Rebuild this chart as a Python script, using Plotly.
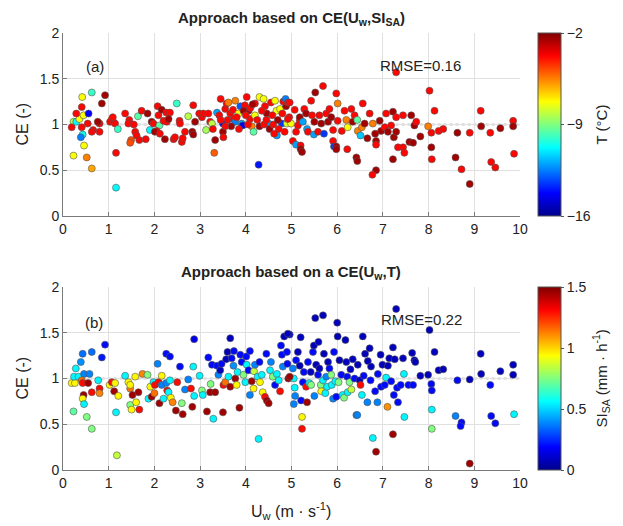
import plotly.graph_objects as go

# ---------------- Panel (a): CE vs U_w, colour = T (°C) ----------------
a_uw = [0.23, 0.23, 0.19, 0.29, 0.36, 0.45, 0.42, 0.63, 0.41, 0.29, 0.56, 0.41, 0.43, 0.39, 0.46, 0.52, 0.63,
        0.54, 0.66, 0.63, 0.80, 0.80, 0.76, 0.85, 0.92, 1.07, 1.03, 1.10, 1.14, 1.09, 1.20, 1.16, 1.16, 1.36,
        1.45, 1.43, 1.49, 1.47, 1.55, 1.58, 1.64, 1.61, 1.67, 1.72, 1.85, 1.81, 1.90, 1.94, 1.98, 2.07, 2.09,
        2.11, 2.05, 2.01, 2.12, 2.16, 2.26, 2.20, 2.27, 2.23, 2.34, 2.31, 2.42, 2.45, 2.49, 2.55, 2.56, 2.60,
        2.62, 2.67, 2.74, 2.85, 2.83, 2.85, 2.89, 2.98, 3.04, 3.07, 3.13, 3.18, 3.22, 3.26, 3.28, 3.33, 3.31,
        3.37, 3.42, 3.45, 3.50, 3.51, 3.50, 3.55, 3.58, 3.62, 3.66, 3.72, 3.77, 3.73, 3.77, 3.84, 3.88, 3.91,
        3.93, 3.98, 4.02, 4.06, 4.09, 4.13, 4.17, 4.20, 4.20, 4.28, 4.30, 4.39, 4.42, 4.46, 4.50, 4.55, 4.64,
        4.67, 4.68, 4.75, 4.79, 4.90, 3.60, 3.68, 3.80, 3.85, 3.95, 4.00, 4.05, 4.10, 4.15, 4.25, 4.30, 4.35,
        4.40, 4.45, 4.52, 4.58, 4.60, 4.70, 4.72, 4.80, 4.85, 4.88, 4.95, 3.45, 3.55, 4.62, 4.82, 4.87, 4.92,
        4.96, 5.07, 4.99, 4.92, 5.14, 5.18, 5.10, 5.03, 5.18, 5.10, 5.20, 5.20, 5.23, 5.25, 5.28, 5.32, 5.34,
        5.36, 5.43, 5.45, 5.50, 5.49, 5.52, 5.58, 5.61, 5.65, 5.69, 5.71, 5.76, 5.80, 5.83, 5.87, 5.91, 5.91,
        5.93, 5.98, 5.98, 5.98, 6.01, 6.01, 6.10, 6.16, 6.20, 6.22, 6.23, 6.31, 6.34, 6.38, 6.42, 6.44, 6.45,
        6.44, 6.51, 6.54, 6.56, 6.60, 6.66, 6.71, 6.78, 6.83, 6.85, 6.85, 6.85, 6.77, 6.93, 6.96, 7.04, 7.07,
        7.11, 7.18, 7.22, 7.24, 7.29, 7.29, 7.33, 7.44, 7.22, 7.29, 7.47, 7.44, 7.62, 7.58, 7.66, 7.69, 7.73,
        7.82, 7.99, 8.02, 8.06, 8.06, 8.07, 8.13, 8.22, 8.32, 8.59, 8.63, 8.72, 8.90, 8.90, 9.14, 9.15, 9.35,
        9.37, 9.46, 9.57, 9.85, 9.85, 9.87]
a_ce = [0.66, 1.03, 0.97, 1.03, 1.06, 1.10, 1.30, 1.35, 1.19, 1.12, 1.12, 0.97, 0.89, 0.86, 0.77, 0.64, 0.52,
        1.01, 0.94, 0.92, 1.01, 0.92, 1.03, 1.23, 1.32, 1.06, 1.03, 1.03, 1.01, 1.08, 0.95, 0.69, 0.31, 1.12,
        1.05, 1.01, 0.83, 0.80, 1.00, 0.92, 1.09, 0.88, 0.83, 1.15, 1.12, 0.84, 0.94, 1.03, 1.01, 1.20, 1.10,
        0.99, 0.93, 0.92, 0.90, 1.16, 1.13, 1.04, 1.03, 0.84, 1.13, 1.06, 0.84, 0.86, 1.23, 1.04, 1.01, 0.81,
        0.85, 0.92, 1.09, 1.21, 0.92, 0.89, 1.03, 1.12, 1.08, 1.12, 0.94, 1.12, 1.03, 1.01, 0.95, 0.83, 0.69,
        1.13, 1.10, 1.28, 0.92, 0.86, 1.01, 1.17, 1.23, 1.24, 1.12, 1.16, 1.26, 1.06, 1.03, 1.12, 1.20, 1.01,
        0.99, 1.21, 1.30, 1.15, 1.06, 0.98, 0.92, 1.23, 1.10, 0.56, 1.30, 1.28, 1.20, 1.12, 1.01, 1.24, 1.26,
        1.15, 0.88, 1.17, 1.01, 1.01, 1.05, 0.98, 1.08, 0.95, 1.15, 1.10, 1.00, 1.18, 1.22, 1.05, 0.98, 1.15,
        1.00, 1.05, 0.95, 1.10, 1.00, 1.05, 0.95, 1.12, 0.92, 1.20, 1.08, 1.05, 0.98, 0.90, 1.25, 1.28, 1.24,
        1.24, 1.16, 1.01, 1.06, 0.99, 1.04, 0.92, 0.82, 1.08, 0.78, 0.77, 0.73, 0.70, 1.03, 1.17, 1.12, 0.95,
        0.92, 1.26, 1.10, 1.03, 0.89, 1.35, 0.92, 1.10, 1.01, 1.42, 0.90, 1.12, 1.03, 1.17, 1.08, 0.94, 0.82,
        0.76, 0.76, 0.73, 1.34, 1.23, 1.04, 0.93, 1.15, 1.05, 0.73, 0.97, 1.17, 1.03, 1.10, 0.64, 1.05, 0.93,
        0.60, 0.88, 0.97, 1.23, 1.01, 0.85, 1.12, 1.01, 0.90, 0.82, 0.78, 0.50, 0.45, 1.04, 0.93, 0.97, 1.12,
        0.92, 0.99, 1.14, 0.86, 1.08, 0.92, 0.75, 0.75, 0.62, 1.57, 0.69, 1.10, 1.10, 0.81, 0.80, 0.99, 1.03,
        0.87, 0.98, 1.37, 0.91, 0.75, 0.62, 1.15, 0.93, 0.95, 0.64, 0.91, 0.51, 0.35, 0.91, 1.15, 0.98, 0.91,
        0.59, 0.53, 0.96, 1.04, 0.98, 0.68]
a_temp = [-7.3, -8.2, -3.8, -10.8, -7.3, -7.3, -7.3, -10.0, -3.8, -3.8, -14.3, -3.8, -10.5, -12.5, -7.3, -5.5, -6.0,
          -3.8, -3.8, -3.8, -3.8, -3.8, -2.5, -2.5, -2.5, -3.8, -3.8, -3.8, -3.8, -3.8, -10.0, -3.8, -10.8, -3.8,
          -3.8, -3.8, -4.8, -4.8, -3.8, -3.8, -9.5, -3.8, -3.8, -3.8, -2.5, -3.8, -10.8, -2.5, -3.8, -3.8, -3.8,
          -9.5, -3.8, -2.5, -3.8, -2.5, -3.8, -3.8, -3.8, -2.5, -3.8, -2.5, -3.8, -3.8, -10.0, -3.8, -3.8, -3.8,
          -3.8, -3.8, -8.2, -3.8, -2.5, -2.5, -2.5, -3.8, -3.8, -3.8, -8.5, -3.8, -3.8, -8.2, -3.8, -2.5, -5.0,
          -12.0, -3.8, -3.8, -2.5, -3.8, -14.5, -3.8, -3.8, -5.5, -3.8, -3.8, -5.5, -3.8, -12.5, -7.3, -13.0, -12.0,
          -14.5, -3.8, -3.8, -2.5, -3.8, -5.5, -9.5, -3.8, -7.3, -14.0, -7.3, -7.3, -3.8, -2.5, -12.0, -3.8, -7.3,
          -7.3, -12.0, -7.3, -13.5, -7.8, -3.8, -2.5, -3.8, -3.8, -2.5, -3.8, -3.8, -3.8, -2.5, -3.8, -2.5, -3.8,
          -3.8, -3.8, -2.5, -3.8, -3.8, -2.5, -3.8, -3.8, -3.8, -2.5, -3.8, -3.8, -3.8, -3.8, -3.8, -12.5, -3.8,
          -3.8, -3.8, -7.3, -3.8, -3.8, -3.8, -3.8, -3.8, -2.5, -12.0, -3.8, -2.5, -2.5, -12.0, -3.8, -2.5, -12.0,
          -3.8, -3.8, -3.8, -2.5, -12.0, -2.5, -3.8, -3.8, -2.5, -3.8, -13.5, -3.8, -2.5, -3.8, -2.5, -3.8, -3.8,
          -13.5, -2.5, -2.5, -3.8, -5.5, -3.8, -3.8, -3.8, -5.5, -3.8, -7.3, -3.8, -2.5, -3.8, -2.5, -9.5, -5.5,
          -2.5, -11.5, -5.5, -3.8, -2.5, -2.5, -3.8, -5.5, -2.5, -2.5, -3.8, -2.5, -3.8, -2.5, -2.5, -3.8, -3.8,
          -2.5, -3.8, -2.5, -2.5, -3.8, -2.5, -3.8, -3.8, -2.5, -3.8, -3.8, -3.8, -2.5, -2.5, -2.5, -2.5, -3.8,
          -2.5, -5.5, -3.8, -3.8, -2.5, -3.8, -3.8, -3.8, -3.8, -2.5, -2.5, -3.8, -2.5, -3.8, -3.8, -2.5, -3.8,
          -3.8, -3.8, -2.5, -3.8, -2.5, -3.8]

# ---------------- Panel (b): CE vs U_w, colour = SI_SA (mm h-1) ----------------
b_uw = [0.19, 0.23, 0.26, 0.24, 0.28, 0.34, 0.39, 0.43, 0.46, 0.41, 0.43, 0.45, 0.43, 0.46, 0.52, 0.55, 0.58,
        0.63, 0.63, 0.63, 0.77, 0.80, 0.80, 0.85, 0.92, 1.02, 1.07, 1.14, 1.12, 1.16, 1.18, 1.21, 1.36, 1.43,
        1.47, 1.47, 1.50, 1.47, 1.52, 1.58, 1.60, 1.65, 1.67, 1.74, 1.85, 1.91, 1.87, 1.94, 1.98, 2.00, 2.01,
        2.07, 2.09, 2.11, 2.16, 2.16, 2.20, 2.26, 2.26, 2.28, 2.31, 2.34, 2.34, 2.36, 2.40, 2.47, 2.50, 2.56,
        2.60, 2.62, 2.67, 2.74, 2.80, 2.83, 2.85, 2.87, 2.87, 2.99, 3.04, 3.06, 3.15, 3.18, 3.22, 3.23, 3.26,
        3.29, 3.33, 3.37, 3.40, 3.44, 3.47, 3.50, 3.51, 3.55, 3.57, 3.60, 3.62, 3.66, 3.66, 3.69, 3.73, 3.74,
        3.77, 3.80, 3.82, 3.86, 3.88, 3.91, 3.95, 3.99, 4.01, 4.02, 4.06, 4.09, 4.09, 4.13, 4.17, 4.18, 4.20,
        4.26, 4.28, 4.30, 4.31, 4.35, 4.37, 4.42, 4.45, 4.46, 4.50, 4.53, 4.55, 4.59, 4.64, 4.68, 4.72, 4.75,
        4.77, 4.79, 4.81, 4.84, 4.90, 4.91, 4.93, 4.96,
        4.92, 5.03, 5.05, 5.07, 5.08, 5.05, 4.96, 5.10, 5.14, 5.18, 5.20, 5.21, 5.23, 5.23, 5.25, 5.27, 5.32,
        5.34, 5.36, 5.39, 5.42, 5.43, 5.47, 5.49, 5.50, 5.52, 5.54, 5.58, 5.59, 5.61, 5.64, 5.65, 5.69, 5.69,
        5.71, 5.74, 5.76, 5.78, 5.80, 5.83, 5.87, 5.88, 5.91, 5.93, 5.96, 5.98, 6.00, 6.01, 6.03, 6.05, 6.09,
        6.12, 6.15, 6.18, 6.20, 6.22, 6.23, 6.27, 6.29, 6.31, 6.34, 6.38, 6.42, 6.44, 6.45, 6.49, 6.51, 6.54,
        6.56, 6.58, 6.61, 6.66, 6.67, 6.71, 6.73, 6.74, 6.78, 6.85, 6.83, 6.88, 6.89, 6.95, 6.96, 6.99, 7.04,
        7.07, 7.10, 7.11, 7.14, 7.18, 7.22, 7.22, 7.24, 7.26, 7.29, 7.31, 7.33, 7.39, 7.44, 7.46, 7.47, 7.56,
        7.64, 7.66, 7.69, 7.71, 7.82, 7.99, 8.02, 8.06, 8.07, 8.07, 8.07, 8.13, 8.22, 8.32, 8.59, 8.63, 8.72,
        8.70, 8.90, 8.90, 9.14, 9.15, 9.35, 9.37, 9.46, 9.57, 9.85, 9.85, 9.87]
b_ce = [0.95, 0.64, 0.95, 1.02, 1.11, 1.02, 1.18, 1.27, 1.05, 0.98, 0.95, 0.82, 0.78, 0.72, 0.58, 0.95, 1.05,
        1.29, 0.45, 0.85, 0.98, 0.89, 0.84, 1.23, 1.37, 0.93, 0.96, 0.95, 0.86, 0.63, 0.16, 0.81, 1.03, 0.96,
        0.89, 0.71, 0.66, 0.93, 0.82, 1.02, 0.74, 0.85, 0.66, 1.05, 1.04, 0.91, 0.78, 0.80, 0.96, 0.84, 0.93,
        1.16, 0.96, 0.73, 1.03, 0.93, 0.78, 0.95, 1.27, 0.87, 0.85, 1.24, 0.98, 0.79, 0.74, 0.65, 0.96, 1.13,
        0.73, 0.61, 0.88, 0.99, 0.89, 0.69, 1.13, 1.43, 0.81, 1.03, 0.87, 0.82, 0.64, 1.23, 0.85, 0.94, 1.15,
        0.56, 0.85, 1.14, 1.04, 1.09, 1.16, 0.63, 0.93, 0.96, 1.21, 1.29, 1.02, 1.44, 0.91, 1.22, 1.14, 1.30,
        1.00, 0.93, 1.07, 0.68, 1.26, 1.18, 1.04, 0.96, 1.24, 1.15, 1.09, 1.30, 0.82, 0.97, 0.89, 1.08, 1.15,
        1.02, 0.34, 1.18, 0.96, 1.04, 0.85, 0.80, 1.27, 0.76, 0.73, 1.09, 1.18, 1.02, 0.93, 1.05, 0.98, 0.86,
        1.36, 1.26, 1.13, 1.46, 1.29, 1.16, 1.00, 1.48,
        1.49, 1.11, 1.00, 0.90, 0.81, 0.72, 1.02, 1.20, 1.29, 1.14, 1.45, 0.76, 0.58, 0.45, 0.96, 1.07, 0.91,
        0.74, 1.18, 0.95, 1.07, 0.93, 1.29, 1.36, 0.81, 1.66, 1.15, 1.04, 1.40, 1.11, 0.93, 0.86, 1.69, 0.98,
        1.27, 0.84, 1.02, 0.91, 1.18, 1.11, 1.04, 0.93, 0.78, 1.29, 0.97, 0.80, 1.61, 1.46, 0.96, 1.20, 1.04,
        0.82, 0.79, 1.42, 1.18, 1.02, 0.85, 0.96, 1.10, 0.88, 1.21, 1.00, 0.60, 0.60, 1.15, 0.98, 0.93, 0.82,
        1.46, 1.03, 1.27, 0.74, 1.19, 1.33, 0.98, 1.13, 0.35, 0.20, 0.86, 0.74, 1.05, 1.26, 0.91, 1.15, 0.93,
        1.01, 0.69, 1.14, 1.22, 0.97, 1.34, 0.39, 0.82, 1.21, 1.76, 0.90, 0.74, 0.93, 1.22, 1.05, 0.58, 0.93,
        1.28, 0.93, 1.20, 1.18, 1.03, 1.04, 1.53, 0.94, 0.87, 0.66, 0.45, 1.29, 1.09, 1.10, 0.59, 0.98, 0.52,
        0.48, 0.07, 0.99, 1.27, 1.05, 0.93, 0.59, 0.51, 1.08, 1.15, 1.04, 0.61]
b_si = [0.95, 0.70, 0.95, 0.55, 0.55, 0.55, 0.40, 0.35, 0.38, 1.15, 1.30, 1.45, 0.95, 0.55, 0.75, 1.45, 0.38,
        0.35, 0.75, 1.30, 0.55, 1.30, 1.12, 0.22, 0.20, 0.95, 1.30, 0.95, 1.45, 0.55, 0.85, 0.95, 0.55, 0.95,
        1.15, 0.75, 0.95, 0.95, 1.45, 0.95, 0.95, 1.45, 1.30, 1.12, 0.75, 0.95, 0.55, 1.45, 0.55, 1.15, 1.30,
        0.38, 1.30, 1.45, 0.95, 0.38, 0.55, 0.38, 0.20, 1.30, 0.55, 0.20, 0.55, 0.95, 1.12, 1.45, 1.30, 0.20,
        0.75, 1.45, 0.38, 0.38, 1.30, 1.45, 0.55, 0.15, 0.55, 0.55, 0.75, 0.55, 1.45, 0.20, 1.45, 0.75, 0.20,
        0.55, 1.45, 0.20, 0.38, 0.08, 0.20, 1.45, 1.30, 1.15, 0.08, 0.08, 0.55, 0.08, 1.45, 0.20, 0.40, 0.20,
        1.45, 0.95, 0.55, 1.45, 0.20, 0.20, 0.75, 0.55, 0.20, 0.55, 0.20, 0.20, 0.38, 1.45, 0.95, 0.85, 0.38,
        0.55, 0.55, 0.20, 0.95, 0.55, 0.95, 1.30, 0.20, 1.45, 1.45, 0.55, 0.38, 0.75, 0.20, 0.55, 0.55, 1.30,
        0.20, 0.20, 0.38, 0.08, 0.20, 0.20, 1.45, 0.20,
        0.08, 0.38, 0.55, 0.55, 0.38, 0.38, 1.45, 0.20, 0.08, 0.08, 0.08, 0.20, 0.95, 1.30, 0.20, 0.20, 1.30,
        1.45, 0.20, 0.55, 0.08, 0.75, 0.20, 0.08, 0.38, 0.08, 0.08, 0.20, 0.08, 0.08, 0.75, 0.95, 0.08, 0.55,
        0.08, 0.55, 0.38, 0.55, 0.08, 0.20, 0.75, 0.55, 0.38, 0.20, 0.55, 0.20, 0.08, 0.08, 0.75, 0.08, 0.20,
        0.55, 0.75, 0.08, 0.08, 0.20, 0.55, 0.75, 0.08, 0.85, 0.08, 0.20, 0.38, 0.38, 0.08, 0.08, 1.30, 0.55,
        0.08, 0.20, 0.08, 0.38, 0.08, 0.08, 0.20, 0.08, 0.55, 1.45, 0.20, 0.38, 0.20, 0.08, 0.20, 0.08, 0.20,
        0.55, 1.10, 0.08, 0.08, 0.20, 0.08, 1.45, 0.20, 0.08, 0.08, 0.20, 0.20, 0.20, 0.08, 0.55, 0.55, 0.20,
        0.08, 0.20, 0.08, 0.08, 0.08, 0.08, 0.08, 0.20, 0.20, 0.55, 0.75, 0.08, 0.08, 0.08, 0.38, 0.20, 0.20,
        0.20, 1.45, 0.08, 0.08, 0.08, 0.20, 0.20, 0.20, 0.08, 0.08, 0.08, 0.55]

x_ticks = [0, 1, 2, 3, 4, 5, 6, 7, 8, 9, 10]
y_ticks = [0, 0.5, 1, 1.5, 2]
y_tick_text = ["0", "0.5", "1", "1.5", "2"]
t_ticks = [-16, -9, -2]
si_ticks = [0, 0.5, 1, 1.5]
si_tick_text = ["0", "0.5", "1", "1.5"]
ref_ce = 1.0
rmse_a = 0.16
rmse_b = 0.22

jet = [[0.0, "rgb(0,0,140)"], [0.125, "rgb(0,0,255)"], [0.375, "rgb(0,255,255)"],
       [0.625, "rgb(255,255,0)"], [0.875, "rgb(255,0,0)"], [1.0, "rgb(128,0,0)"]]

# the page body has an 8 px margin, so the figure is drawn 8 px right/down of the window corner
OFF = 8
W, H = 623 - OFF, 526 - OFF
FONT = "Liberation Sans, Arial, sans-serif"


def px_x(p):
    return (p - OFF) / W


def px_y(p):
    return 1 - (p - OFF) / H


xdom = [px_x(63), px_x(520)]
dom_a = [px_y(216), px_y(33)]
dom_b = [px_y(470), px_y(287)]


def colorbar(ticks, top, labels=None):
    return dict(
        x=px_x(538), xanchor="left", thickness=23, thicknessmode="pixels",
        len=183 / H, lenmode="fraction", y=top, yanchor="top", ypad=0, xpad=0,
        outlinewidth=1, outlinecolor="#555", tickvals=ticks,
        ticktext=labels, ticks="outside", ticklen=3, tickcolor="#555",
        tickfont=dict(size=14, color="#222", family=FONT),
    )


fig = go.Figure()
fig.add_trace(go.Scatter(
    x=a_uw, y=a_ce, mode="markers", xaxis="x", yaxis="y", showlegend=False,
    marker=dict(color=a_temp, colorscale=jet, cmin=-16, cmax=-2, size=7,
                line=dict(width=0.6, color="#555"),
                colorbar=colorbar(t_ticks, dom_a[1]))))
fig.add_trace(go.Scatter(
    x=b_uw, y=b_ce, mode="markers", xaxis="x2", yaxis="y2", showlegend=False,
    marker=dict(color=b_si, colorscale=jet, cmin=0, cmax=1.5, size=7,
                line=dict(width=0.6, color="#555"),
                colorbar=colorbar(si_ticks, dom_b[1], si_tick_text))))

for xr, yr in (("x", "y"), ("x2", "y2")):
    fig.add_shape(type="line", xref=xr, yref=yr, x0=min(a_uw), x1=max(x_ticks),
                  y0=ref_ce, y1=ref_ce, line=dict(color="#8c8c8c", width=1.6, dash="dot"), layer="below")

axis_common = dict(
    showgrid=True, gridcolor="#e0e0e0", gridwidth=1, zeroline=False,
    showline=True, linecolor="#7a7a7a", linewidth=1, mirror=False,
    ticks="inside", ticklen=4, tickcolor="#7a7a7a", automargin=False,
    tickfont=dict(size=14, color="#222", family=FONT),
)
fig.update_layout(
    width=W, height=H, margin=dict(l=0, r=0, t=0, b=0, pad=0, autoexpand=False),
    paper_bgcolor="white", plot_bgcolor="white", font=dict(family=FONT, color="#222"),
    xaxis=dict(domain=xdom, range=[0, 10], tickvals=x_ticks, anchor="y", **axis_common),
    yaxis=dict(domain=dom_a, range=[0, 2], tickvals=y_ticks, ticktext=y_tick_text,
               anchor="x", **axis_common),
    xaxis2=dict(domain=xdom, range=[0, 10], tickvals=x_ticks, anchor="y2", **axis_common),
    yaxis2=dict(domain=dom_b, range=[0, 2], tickvals=y_ticks, ticktext=y_tick_text,
                anchor="x2", **axis_common),
)


def note(text, x, y, xref="paper", yref="paper", size=15, angle=0, yanchor="middle"):
    return dict(text=text, x=x, y=y, xref=xref, yref=yref, showarrow=False,
                xanchor="center", yanchor=yanchor, textangle=angle, borderpad=0,
                font=dict(size=size, color="#222", family=FONT))


mid_a = (dom_a[0] + dom_a[1]) / 2
mid_b = (dom_b[0] + dom_b[1]) / 2
ann = [
    note("<b>Approach based on CE(U<sub>w</sub>,SI<sub>SA</sub>)</b>", px_x(291), 1.0, yanchor="top"),
    note("<b>Approach based on a CE(U<sub>w</sub>,T)</b>", px_x(291), px_y(272)),
    note("CE (-)", px_x(22), mid_a, size=16, angle=-90),
    note("CE (-)", px_x(22), mid_b, size=16, angle=-90),
    note("U<sub>w</sub> (m · s<sup>-1</sup>)", px_x(291), px_y(511), size=16),
    note("T (°C)", px_x(601), mid_a, angle=-90),
    note("SI<sub>SA</sub> (mm · h<sup>-1</sup>)", px_x(601), mid_b, angle=-90),
    note("(a)", 0.7, 1.63, "x", "y"),
    note(f"RMSE={rmse_a:.2f}", 7.82, 1.65, "x", "y"),
    note("(b)", 0.68, 1.61, "x2", "y2"),
    note(f"RMSE={rmse_b:.2f}", 7.85, 1.64, "x2", "y2"),
]
fig.update_layout(annotations=ann)

assert len(a_uw) == len(a_ce) == len(a_temp), (len(a_uw), len(a_ce), len(a_temp))
assert len(b_uw) == len(b_ce) == len(b_si), (len(b_uw), len(b_ce), len(b_si))

fig.write_html("out.html")
